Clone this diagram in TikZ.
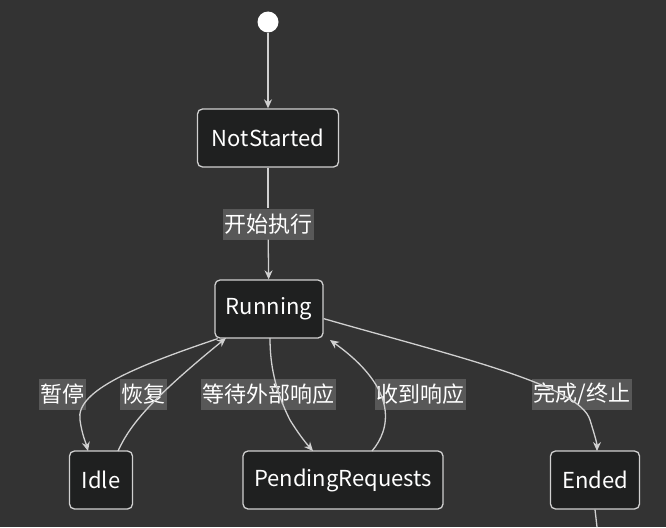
\documentclass[tikz,border=0pt]{standalone}
\usepackage{fontspec}
\setmainfont{Noto Sans CJK SC}
\usetikzlibrary{arrows.meta}
\definecolor{bg}{HTML}{333333}
\definecolor{nodefill}{HTML}{1F2020}
\definecolor{edge}{HTML}{D0D0D0}
\definecolor{lblbg}{HTML}{585858}
\begin{document}
\begin{tikzpicture}[x=1pt,y=-1pt,
  st/.style={draw=edge,fill=nodefill,rounded corners=5pt,line width=1.3pt,text=white,font=\fontsize{22}{24}\selectfont,minimum height=58pt,inner xsep=6pt},
  lbl/.style={fill=lblbg,text=white,font=\fontsize{22}{24}\selectfont,inner sep=1.5pt,minimum height=31pt},
  ed/.style={draw=edge,line width=1.3pt,-{Stealth[length=9pt,width=8pt]}}]
\fill[bg] (0,0) rectangle (666,527);
\useasboundingbox (0,0) rectangle (666,527);
\node[circle,fill=white,minimum size=21pt,inner sep=0] (start) at (268,22) {};
\node[st,minimum width=141pt] (ns) at (268,138) {NotStarted};
\node[st,minimum width=108pt] (run) at (269,309) {Running};
\node[st,minimum width=63pt] (idle) at (101,480) {Idle};
\node[st,minimum width=200pt] (pend) at (343,480) {PendingRequests};
\node[st,minimum width=89pt] (end) at (595,480) {Ended};
\coordinate (out) at (597,527);
\node[lbl] (l1) at (268,224) {开始执行};
\node[lbl] (l2) at (62,394) {暂停};
\node[lbl] (l3) at (143,394) {恢复};
\node[lbl] (l4) at (268,394) {等待外部响应};
\node[lbl] (l5) at (420,394) {收到响应};
\node[lbl] (l6) at (582,394) {完成/终止};
\draw[ed] (start) -- (ns);
\draw[edge,line width=1.3pt] (ns) -- (l1);
\draw[ed] (l1) -- (run);
\draw[ed] (run.210) .. controls (140,365) and (75,390) .. (80,420) .. controls (82,435) and (86,443) .. (88,451);
\draw[ed] (118,451) .. controls (130,425) and (150,400) .. (226,338);
\draw[ed] (270,338) .. controls (270,365) and (275,390) .. (290,420) .. controls (298,433) and (305,442) .. (313,451);
\draw[ed] (372,451) .. controls (390,430) and (400,390) .. (330,340);
\draw[ed] (run.-10) .. controls (450,355) and (580,385) .. (590,420) .. controls (594,433) and (597,443) .. (597,451);
\draw[edge,line width=1.3pt] (end.south) -- (out);
\end{tikzpicture}
\end{document}
